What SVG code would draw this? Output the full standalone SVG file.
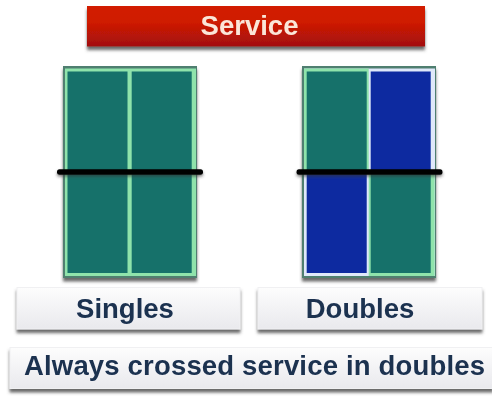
<svg xmlns="http://www.w3.org/2000/svg" width="492" height="397" viewBox="0 0 492 397">
<style>
text{font-family:"Liberation Sans",Arial,sans-serif;font-weight:bold;text-anchor:middle;font-size:27.500px;filter:url(#t)}
.lab{fill:#1a3050}
.box{fill:url(#w);stroke:#f0f0f2;stroke-width:1;filter:url(#s)}
.teal{fill:#14716a}
.blue{fill:#0a2ba0}
.green{fill:#8fe3ab}
.pale{fill:#dfe8fa}
.rim{fill:#4f7f70;filter:url(#s)}
.net{fill:#000;filter:url(#n)}
</style>
<defs>
<linearGradient id="r" x1="0" y1="0" x2="0" y2="1"><stop offset="0" stop-color="#d21c06"/><stop offset=".4" stop-color="#cf1a04"/><stop offset="1" stop-color="#a20f0a"/></linearGradient>
<linearGradient id="w" x1="0" y1="0" x2="0" y2="1"><stop offset="0" stop-color="#fdfdfd"/><stop offset="1" stop-color="#e9e9ed"/></linearGradient>
<filter id="s" x="-10%" y="-20%" width="120%" height="160%"><feDropShadow dx="0" dy="3.500" stdDeviation="1.600" flood-color="#444" flood-opacity=".8"/></filter>
<filter id="n" x="-10%" y="-300%" width="120%" height="800%"><feDropShadow dx="0" dy="2" stdDeviation="1.500" flood-color="#333" flood-opacity=".6"/></filter>
<filter id="b" x="-5%" y="-5%" width="110%" height="110%"><feGaussianBlur stdDeviation=".5"/></filter>
<filter id="t" x="-5%" y="-10%" width="110%" height="120%"><feGaussianBlur stdDeviation=".4"/></filter>
</defs>
<g id="service"><rect x="87" y="6" width="338" height="40.500" fill="url(#r)" filter="url(#s)"/><text x="249.500" y="35" fill="#fbe6d8">Service</text></g>
<g id="singles-court">
<rect class="rim" x="63" y="66" width="134" height="212"/>
<g filter="url(#b)"><rect class="green" x="65" y="68.500" width="131" height="207.500"/><rect class="teal" x="67.500" y="71.500" width="60" height="201.500"/><rect class="teal" x="131.700" y="71.500" width="60" height="201.500"/></g>
</g>
<g id="doubles-court">
<rect class="rim" x="302" y="66" width="134" height="212"/>
<g filter="url(#b)"><rect class="pale" x="304" y="68.500" width="131" height="207.500"/><path class="green" d="M304 68.500h64.700v103h-64.700z"/><path class="green" d="M368.700 172h66v104h-66z"/><rect class="teal" x="306.700" y="71.500" width="60" height="99"/><rect class="blue" x="370.700" y="71.500" width="60" height="99"/><rect class="blue" x="306.700" y="173" width="60" height="100"/><rect class="teal" x="370.700" y="173" width="60" height="100"/></g>
</g>
<g id="connectors"><rect class="net" x="57" y="169.300" width="146" height="5.500" rx="2.500"/><rect class="net" x="296.500" y="169.300" width="146" height="5.500" rx="2.500"/></g>
<g id="singles"><rect class="box" x="17" y="287.500" width="223" height="41.500"/><text class="lab" x="125" y="318">Singles</text></g>
<g id="doubles"><rect class="box" x="258" y="287.500" width="224" height="41.500"/><text class="lab" x="360" y="318">Doubles</text></g>
<g id="note"><rect class="box" x="10" y="347.500" width="483" height="41"/><text class="lab" x="254.500" y="375" textLength="461">Always crossed service in doubles</text></g>
</svg>
